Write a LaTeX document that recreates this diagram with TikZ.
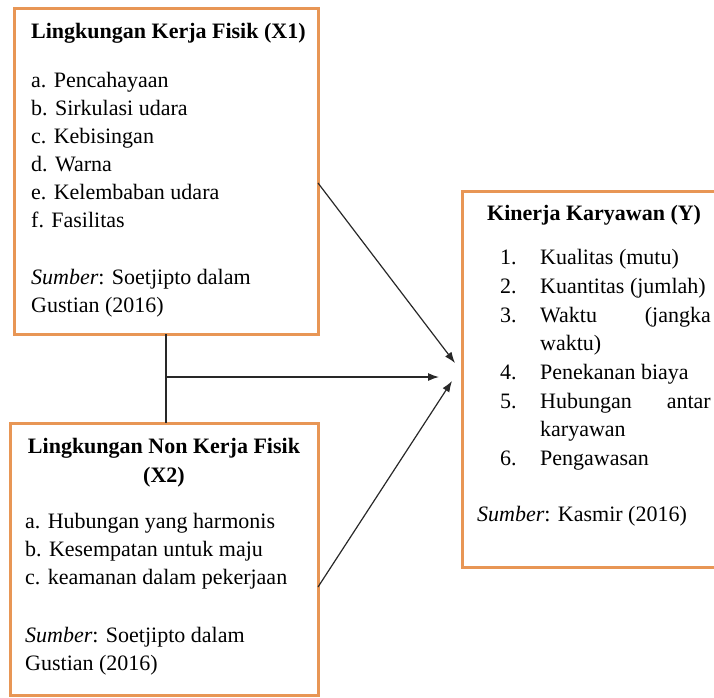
\documentclass[tikz,border=0pt]{standalone}
\usepackage{fontspec}
\newfontfamily\tnr{LiberationSerif}[Extension=.ttf, UprightFont=*-Regular, BoldFont=*-Bold, ItalicFont=*-Italic]
\usetikzlibrary{arrows.meta}
\definecolor{boxorange}{RGB}{232,150,85}
\definecolor{linegray}{RGB}{40,40,40}
\begin{document}
\begin{tikzpicture}[x=1pt,y=-1pt,
  box/.style={draw=boxorange, line width=3pt, inner sep=0pt, outer sep=0pt, anchor=north west},
  txt/.style={anchor=base west, inner sep=0pt, font=\tnr\fontsize{22}{28}\selectfont},
  conn/.style={draw=linegray, line width=1.2pt},
  arr/.style={conn, -{Latex[length=11pt,width=8pt]}}]
\useasboundingbox (0,0) rectangle (714,697);
% boxes
\node[box, minimum width=304pt, minimum height=326pt] (x1) at (14,8) {};
\node[box, minimum width=308pt, minimum height=272pt] (x2) at (10,423) {};
\node[box, minimum width=262pt, minimum height=376pt] (y) at (462,191) {};
% box 1 text
\node[txt] (x1t) at (31,38) {\textbf{Lingkungan Kerja Fisik (X1)}};
\foreach \s [count=\i] in {a. Pencahayaan, b. Sirkulasi udara, c. Kebisingan, d. Warna, e. Kelembaban udara, f. Fasilitas}
  \node[txt] (x1i\i) at (31,{87+28*(\i-1)}) {\s};
\node[txt] (x1s1) at (31,284) {\textit{Sumber}: Soetjipto dalam};
\node[txt] (x1s2) at (31,312) {Gustian (2016)};
% box 2 text
\node[txt, anchor=base] (x2t1) at (164,453) {\textbf{Lingkungan Non Kerja Fisik}};
\node[txt, anchor=base] (x2t2) at (164,482) {\textbf{(X2)}};
\foreach \s [count=\i] in {a. Hubungan yang harmonis, b. Kesempatan untuk maju, c. keamanan dalam pekerjaan}
  \node[txt] (x2i\i) at (25,{528+28*(\i-1)}) {\s};
\node[txt] (x2s1) at (25,642) {\textit{Sumber}: Soetjipto dalam};
\node[txt] (x2s2) at (25,670) {Gustian (2016)};
% box 3 text
\node[txt] (yt) at (487,220) {\textbf{Kinerja Karyawan (Y)}};
\node[txt] (yn1) at (500,264) {1.};
\node[txt] (yn2) at (500,293) {2.};
\node[txt] (yn3) at (500,322) {3.};
\node[txt] (yn4) at (500,379) {4.};
\node[txt] (yn5) at (500,408) {5.};
\node[txt] (yn6) at (500,465) {6.};
\node[txt] (yi1) at (540,264) {Kualitas (mutu)};
\node[txt] (yi2) at (540,293) {Kuantitas (jumlah)};
\node[txt] (yi3a) at (540,322) {Waktu};
\node[txt, anchor=base east] (yi3b) at (711,322) {(jangka};
\node[txt] (yi3c) at (540,350) {waktu)};
\node[txt] (yi4) at (540,379) {Penekanan biaya};
\node[txt] (yi5a) at (540,408) {Hubungan};
\node[txt, anchor=base east] (yi5b) at (711,408) {antar};
\node[txt] (yi5c) at (540,436) {karyawan};
\node[txt] (yi6) at (540,465) {Pengawasan};
\node[txt] (ys) at (477,521) {\textit{Sumber}: Kasmir (2016)};
% connectors
\coordinate (t1) at (455,363);
\coordinate (t2) at (439,377);
\coordinate (t3) at (452,381);
\draw[arr] ([yshift=-12pt]x1.east) -- (t1);
\draw[conn] (x1.south) -- (x1.south |- x2.north);
\coordinate (j) at (x1.south |- t2);
\draw[arr] (j) -- (t2);
\draw[arr] ([yshift=-28pt]x2.east) -- (t3);
\end{tikzpicture}
\end{document}
